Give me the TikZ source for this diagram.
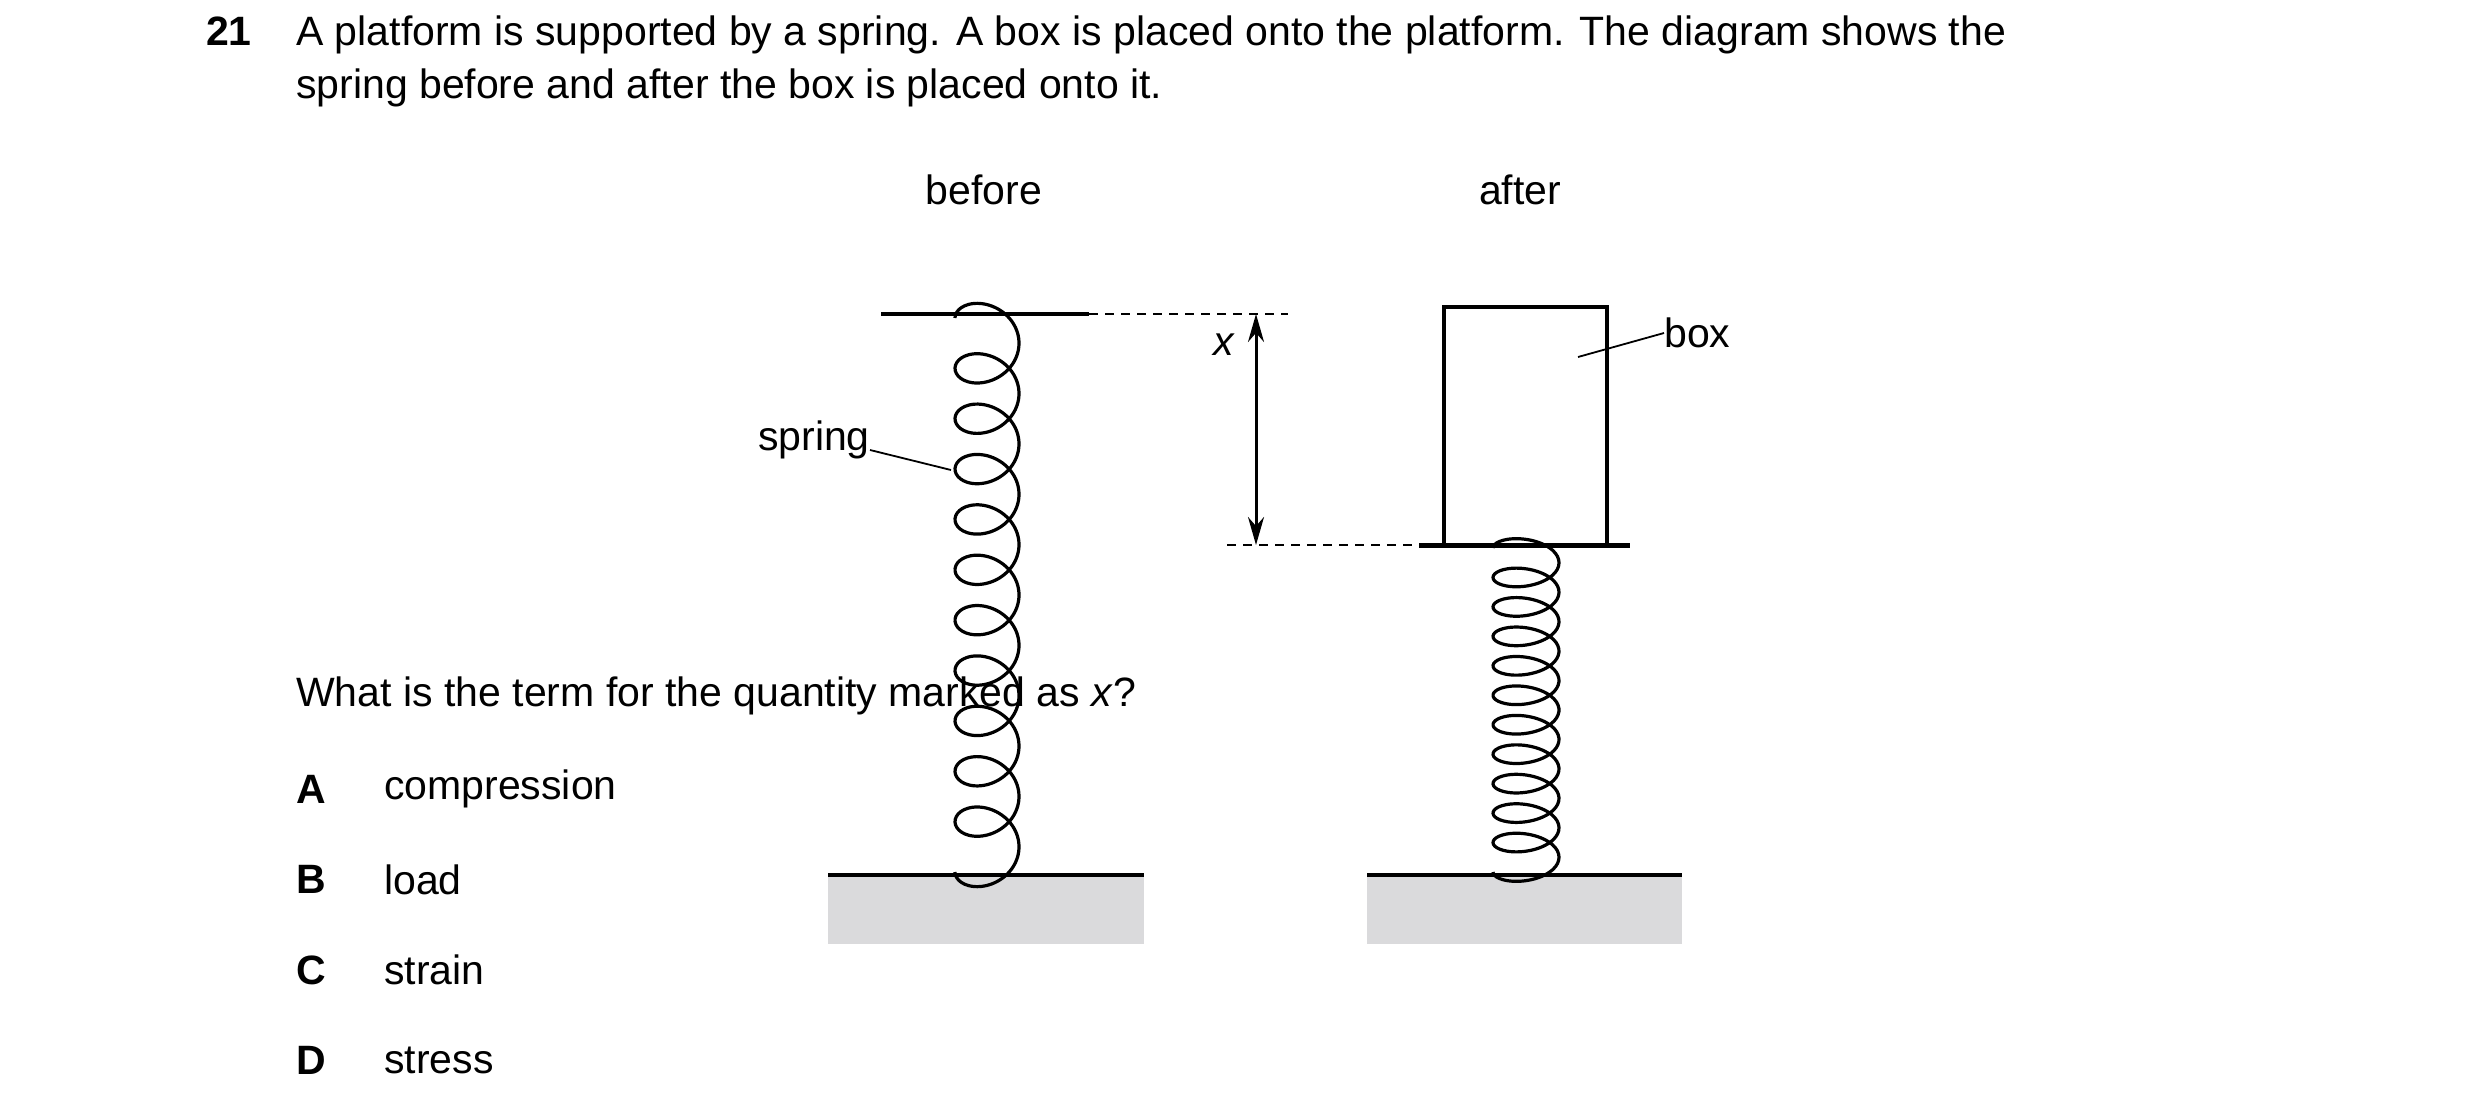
\documentclass[tikz,border=0pt]{standalone}
\usepackage{fontspec}
\setmainfont{Liberation Sans}
\usetikzlibrary{arrows.meta,positioning}
\definecolor{groundgray}{RGB}{218,218,220}
\tikzset{
  txt/.style={font=\fontsize{41}{52}\selectfont, inner sep=0pt},
  plat/.style={line width=4pt},
  coil/.style={line width=3.2pt, smooth},
  guide/.style={line width=2pt, dash pattern=on 9pt off 7pt},
  lead/.style={line width=1.8pt}
}
% spring from top y to bottom y at centre x
\newcommand{\springcoil}[6]{% xc, ytop, ybot, halfwidth, turns, ellipse
  \draw[coil, domain=0:#5*360, samples=#5*40, variable=\t]
    plot ({#1 - #4*cos(\t)}, {-#2 - (#3-#2)*(\t/(#5*360)) + #6*sin(\t)});
}
\begin{document}
\begin{tikzpicture}[x=1pt,y=1pt]
\useasboundingbox (0,0) rectangle (2480,-1116);

% question text
\node[txt, font=\fontsize{41}{52}\bfseries\selectfont, anchor=base west] (num) at (206,-46) {21};
\node[txt, anchor=base west, text width=1977pt, align=justify] (q1) at (296,-46)
  {A platform is supported by a spring. A box is placed onto the platform. The diagram shows the};
\node[txt, anchor=base west] (q2) at (296,-98) {spring before and after the box is placed onto it.};

% headings
\node[txt] (before) at (984,-190) {before};
\node[txt] (after) at (1520,-190) {after};

% ground
\fill[groundgray] (828,-875) rectangle (1144,-944);
\fill[groundgray] (1367,-875) rectangle (1682,-944);
\draw[plat] (828,-875) -- (1144,-875);
\draw[plat] (1367,-875) -- (1682,-875);

% before
\draw[plat] (881,-314) -- (1089,-314);
\springcoil{987}{318}{872}{32}{11}{26}
\draw[guide] (1089,-314) -- (1288,-314);

% after
\draw[line width=5pt] (1419,-545) -- (1630,-545);
\draw[line width=3.5pt] (1444,-545) rectangle (1607,-307);
\springcoil{1526}{548}{872}{33}{11}{16}
\draw[guide] (1227,-545) -- (1419,-545);

% extension
\coordinate (xt) at (1256,-314);
\coordinate (xb) at (1256,-545);
\draw[line width=3pt, {Stealth[length=28pt,width=16pt]}-{Stealth[length=28pt,width=16pt]}] (xt) -- (xb);
\node[txt] (xlab) at (1224,-345) {\itshape x};

% labels
\node[txt, anchor=east] (spring) at (870,-440) {spring};
\coordinate (sp) at (951,-470);
\draw[lead] (spring.east) ++(0,-10) -- (sp);
\node[txt, anchor=west] (box) at (1664,-333) {box};
\coordinate (bx) at (1578,-357);
\draw[lead] (box.west) -- (bx);

% answers
\node[txt, anchor=base west] (ask) at (296,-706) {What is the term for the quantity marked as \textit{x}?};
\foreach \l/\w [count=\i] in {A/compression,B/load,C/strain,D/stress}{
  \node[txt, font=\fontsize{41}{52}\bfseries\selectfont] (opt\l) at (311,-789-\i*90.5+90.5) {\l};
  \node[txt, anchor=west] (ans\l) at (384,-789-\i*90.5+90.5) {\w};
}
\end{tikzpicture}
\end{document}
